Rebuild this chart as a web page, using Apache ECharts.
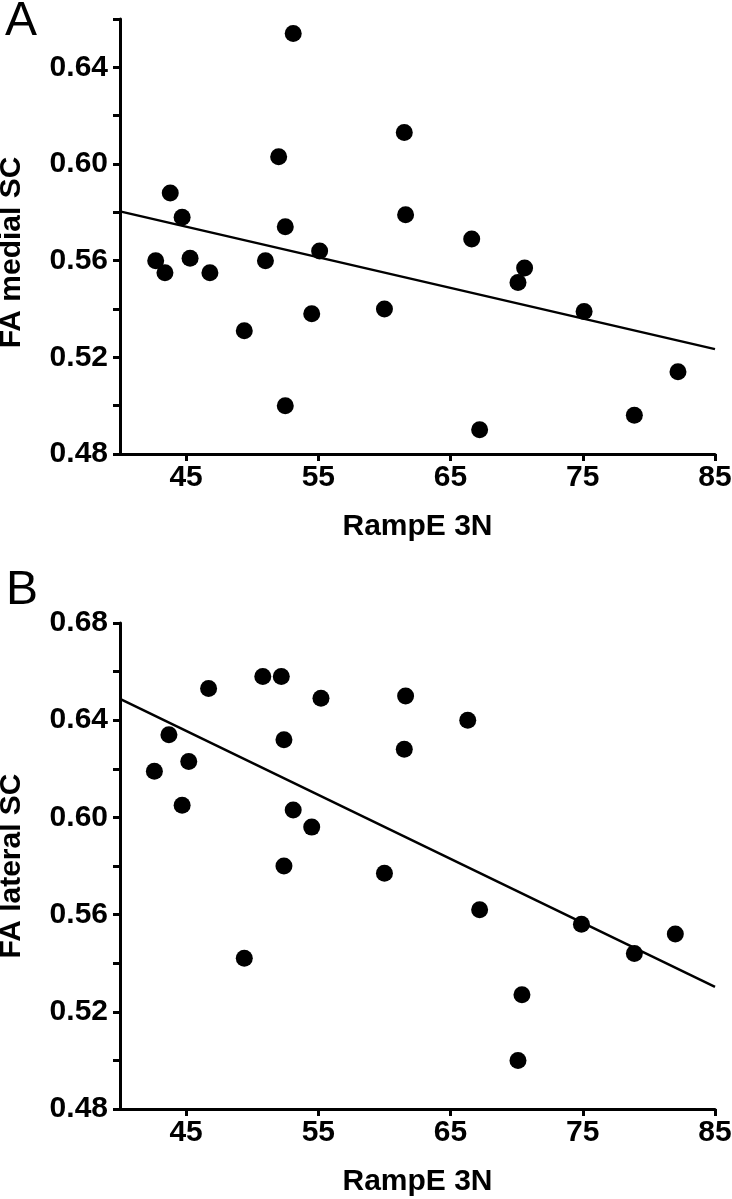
<!DOCTYPE html>
<html>
<head>
<meta charset="utf-8">
<style>
html,body{margin:0;padding:0;background:#fff;}
#chart{width:732px;height:1199px;}
</style>
<script src="https://cdn.jsdelivr.net/npm/echarts@6/dist/echarts.min.js"></script>
</head>
<body>
<div id="chart"></div>
<script>
// Panel A: FA medial SC vs RampE 3N
const medialX = [53.1, 52.0, 43.8, 44.7, 52.5, 55.1, 42.7, 43.4, 45.3, 46.8, 51.0, 49.4, 54.5, 52.5, 61.5, 61.6, 66.6, 60.0, 70.6, 70.1, 75.1, 82.2, 78.9, 67.2];
const medialY = [0.654, 0.603, 0.588, 0.578, 0.574, 0.564, 0.560, 0.555, 0.561, 0.555, 0.560, 0.531, 0.538, 0.500, 0.613, 0.579, 0.569, 0.540, 0.557, 0.551, 0.539, 0.514, 0.496, 0.490];
const fitAX = [40, 85];
const fitAY = [0.5804, 0.5234];

// Panel B: FA lateral SC vs RampE 3N
const lateralX = [43.5, 50.8, 52.2, 46.7, 55.2, 43.7, 52.4, 45.2, 42.6, 44.7, 53.1, 54.5, 52.4, 49.4, 61.6, 66.3, 61.5, 60.0, 67.2, 74.9, 78.9, 82.0, 70.4, 70.1];
const lateralY = [0.681, 0.658, 0.658, 0.653, 0.649, 0.634, 0.632, 0.623, 0.619, 0.605, 0.603, 0.596, 0.580, 0.542, 0.650, 0.640, 0.628, 0.577, 0.562, 0.556, 0.544, 0.552, 0.527, 0.500];
const fitBX = [40, 85];
const fitBY = [0.6488, 0.5303];

const xTicks = [45, 55, 65, 75, 85];
const yLabelsA = [0.48, 0.52, 0.56, 0.60, 0.64];
const yLabelsB = [0.48, 0.52, 0.56, 0.60, 0.64, 0.68];
const xTitle = 'RampE 3N';
const yTitleA = 'FA medial SC';
const yTitleB = 'FA lateral SC';

const zip = (a, b) => a.map((v, i) => [v, b[i]]);
const FONT = '"Liberation Sans", Arial, Helvetica, sans-serif';
const axisLine = {show: true, onZero: false, lineStyle: {color: '#000', width: 3}};
const tickStyle = {lineStyle: {color: '#000', width: 3}, length: 7};
const labelStyle = {color: '#000', fontFamily: FONT, fontWeight: 'bold', fontSize: 30};

function xAxis(gridIndex) {
  return {
    type: 'value', gridIndex, min: 40, max: 85,
    name: xTitle, nameLocation: 'middle', nameGap: 58,
    nameTextStyle: {color: '#000', fontFamily: FONT, fontWeight: 'bold', fontSize: 30},
    axisLine,
    axisTick: Object.assign({show: true, customValues: xTicks}, tickStyle),
    axisLabel: Object.assign({customValues: xTicks, margin: 9}, labelStyle),
    splitLine: {show: false}
  };
}
function yAxis(gridIndex, max, labels, title, pad) {
  return {
    type: 'value', gridIndex, min: 0.48, max: max, interval: 0.02,
    name: title, nameLocation: 'middle', nameGap: 93,
    nameTextStyle: {color: '#000', fontFamily: FONT, fontWeight: 'bold', fontSize: 30, padding: pad},
    axisLine,
    axisTick: Object.assign({show: true}, tickStyle),
    axisLabel: Object.assign({customValues: labels, margin: 12, formatter: v => v.toFixed(2)}, labelStyle),
    splitLine: {show: false}
  };
}

const chart = echarts.init(document.getElementById('chart'), null, {renderer: 'canvas'});
chart.setOption({
  backgroundColor: '#fff',
  animation: false,
  grid: [
    {left: 120, top: 19, width: 595, height: 435, containLabel: false, outerBoundsMode: 'none'},
    {left: 120, top: 623, width: 595, height: 486, containLabel: false, outerBoundsMode: 'none'}
  ],
  xAxis: [xAxis(0), xAxis(1)],
  yAxis: [yAxis(0, 0.66, yLabelsA, yTitleA, [0, 32, 0, 0]), yAxis(1, 0.68, yLabelsB, yTitleB, [0, 0, 0, 0])],
  graphic: [
    {type: 'text', left: 5, top: -2, style: {text: 'A', fontFamily: FONT, fontSize: 48, fill: '#000'}},
    {type: 'text', left: 6, top: 567, style: {text: 'B', fontFamily: FONT, fontSize: 48, fill: '#000'}}
  ],
  series: [
    {type: 'line', xAxisIndex: 0, yAxisIndex: 0, data: zip(fitAX, fitAY), showSymbol: false, lineStyle: {color: '#000', width: 2.5}, z: 2},
    {type: 'scatter', xAxisIndex: 0, yAxisIndex: 0, data: zip(medialX, medialY), symbolSize: 17, itemStyle: {color: '#000', opacity: 1}, z: 3},
    {type: 'line', xAxisIndex: 1, yAxisIndex: 1, data: zip(fitBX, fitBY), showSymbol: false, lineStyle: {color: '#000', width: 2.5}, z: 2},
    {type: 'scatter', xAxisIndex: 1, yAxisIndex: 1, data: zip(lateralX, lateralY), symbolSize: 17, itemStyle: {color: '#000', opacity: 1}, z: 3}
  ]
});
</script>
</body>
</html>
